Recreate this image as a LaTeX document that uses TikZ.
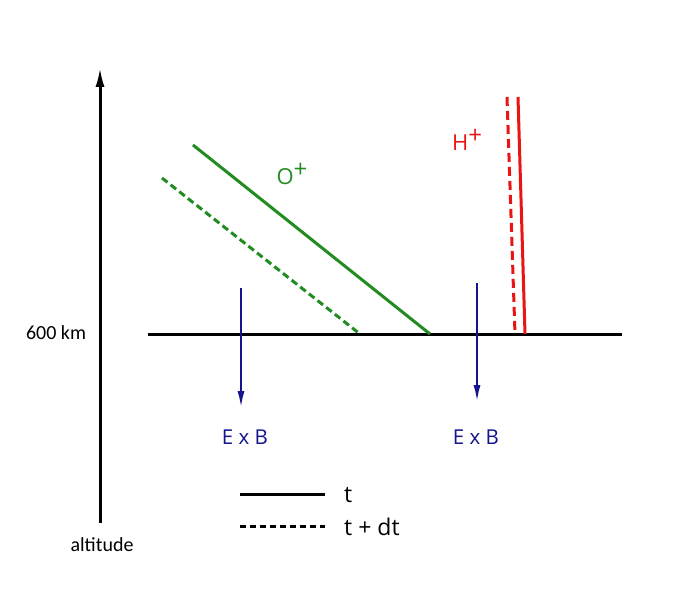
\documentclass[tikz,border=0pt]{standalone}
\usepackage{fontspec}
\setmainfont{Open Sans}
\newfontfamily\cali{Carlito}
\usetikzlibrary{arrows.meta}
\definecolor{ogreen}{RGB}{34,140,34}
\definecolor{hred}{RGB}{235,20,20}
\definecolor{exb}{RGB}{20,20,140}
\tikzset{
  lbl/.style={inner sep=0pt, font=\fontsize{20.5}{24}\selectfont},
  ion/.style={inner sep=0pt, font=\fontsize{22}{26}\selectfont},
  ax/.style={line width=3pt, black},
  drift/.style={line width=2.6pt, exb, -{Latex[length=18pt,width=7pt]}},
  oline/.style={line width=3pt, ogreen},
  hline/.style={line width=3pt, hred},
  dashpat/.style={dash pattern=on 7pt off 4pt}
}
\newcommand{\supplus}{\raisebox{0.6ex}{\fontsize{24}{26}\selectfont +}}
\begin{document}
\begin{tikzpicture}[x=1pt,y=-1pt]
\useasboundingbox (0,0) rectangle (678,594);
\fill[white] (0,0) rectangle (678,594);
% axis
\coordinate (axb) at (100,523);
\coordinate (axt) at (100,67);
\draw[ax, -{Latex[length=20pt,width=9pt]}] (axb) -- (axt);
\node[inner sep=0pt, font=\cali\fontsize{20}{22}\selectfont] (alt) at (102,545) {altitude};
\node[inner sep=0pt, font=\cali\fontsize{20}{22}\selectfont] (km) at (56,333) {600 km};
% baseline
\coordinate (h1) at (148,334);
\coordinate (h2) at (622,334);
\draw[ax] (h1) -- (h2);
% O+
\coordinate (os1) at (193,145); \coordinate (os2) at (430,334);
\coordinate (od1) at (162,178); \coordinate (od2) at (360,334);
\draw[oline] (os1) -- (os2);
\draw[oline, dashpat] (od1) -- (od2);
\node[ion, text=ogreen] (op) at (292,174) {O\supplus};
% H+
\coordinate (hs1) at (518,97); \coordinate (hs2) at (525,334);
\coordinate (hd1) at (507,97); \coordinate (hd2) at (515,334);
\draw[hline] (hs1) -- (hs2);
\draw[hline, dash pattern=on 9pt off 5pt] (hd1) -- (hd2);
\node[ion, text=hred] (hp) at (467,140) {H\supplus};
% ExB
\coordinate (e1a) at (241,288); \coordinate (e1b) at (241,409);
\coordinate (e2a) at (477,283); \coordinate (e2b) at (477,403);
\draw[drift] (e1a) -- (e1b);
\draw[drift] (e2a) -- (e2b);
\node[lbl, text=exb] (x1) at (245,437) {E x B};
\node[lbl, text=exb] (x2) at (476,437) {E x B};
% legend
\coordinate (l1a) at (240,494); \coordinate (l1b) at (325,494);
\coordinate (l2a) at (240,526); \coordinate (l2b) at (325,526);
\draw[line width=3pt] (l1a) -- (l1b);
\draw[line width=3pt, dash pattern=on 6pt off 4pt] (l2a) -- (l2b);
\node[anchor=west, inner sep=0pt, font=\fontsize{23}{26}\selectfont] (lt) at (344,495) {t};
\node[anchor=west, inner sep=0pt, font=\fontsize{23}{26}\selectfont] (ldt) at (344,527) {t + dt};
\end{tikzpicture}
\end{document}
